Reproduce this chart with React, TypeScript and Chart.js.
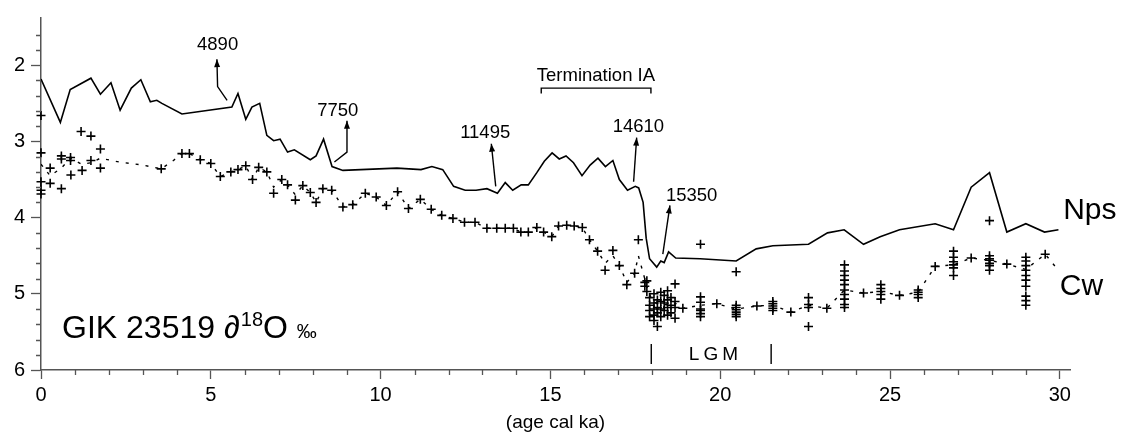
import React, { useEffect, useRef } from 'react';
import { Chart, registerables } from 'chart.js';

Chart.register(...registerables);

const FONT = '"Liberation Sans", Arial, Helvetica, sans-serif';

// ---- Nps (solid line) ----
const npsAge = [0, 0.57, 0.86, 1.47, 1.75, 2.06, 2.33, 2.66, 2.94, 3.22, 3.41, 3.56, 4.15, 5.62, 5.80, 6.03, 6.21, 6.44, 6.65, 6.85, 7.04, 7.26, 7.46, 7.93, 8.10, 8.32, 8.57, 8.89, 10.48, 11.19, 11.51, 11.83, 12.15, 12.49, 12.81, 13.13, 13.44, 13.67, 13.89, 14.14, 14.35, 14.60, 14.82, 15.05, 15.26, 15.46, 15.68, 15.93, 16.17, 16.40, 16.62, 16.84, 17.03, 17.27, 17.50, 17.60, 17.73, 17.82, 17.92, 18.13, 18.25, 18.35, 18.48, 18.69, 19.41, 20.47, 21.06, 21.55, 22.60, 23.16, 23.65, 24.22, 24.71, 25.28, 26.33, 26.87, 27.39, 27.93, 28.44, 29.00, 29.55, 29.96];
const npsD18O = [2.18, 2.75, 2.32, 2.17, 2.38, 2.23, 2.59, 2.30, 2.19, 2.48, 2.46, 2.50, 2.64, 2.55, 2.37, 2.71, 2.55, 2.50, 2.92, 2.99, 2.97, 3.14, 3.11, 3.24, 3.19, 2.97, 3.33, 3.38, 3.35, 3.37, 3.33, 3.37, 3.59, 3.64, 3.64, 3.62, 3.68, 3.54, 3.64, 3.57, 3.57, 3.41, 3.26, 3.15, 3.23, 3.19, 3.28, 3.45, 3.31, 3.22, 3.33, 3.25, 3.50, 3.64, 3.59, 3.61, 3.80, 4.27, 4.54, 4.65, 4.57, 4.59, 4.45, 4.53, 4.54, 4.57, 4.41, 4.37, 4.35, 4.20, 4.16, 4.35, 4.25, 4.16, 4.08, 4.16, 3.60, 3.41, 4.19, 4.08, 4.19, 4.16];

// ---- Cw individual measurements (+ markers), replicates per sample age ----
const cwAge = [0, 0.27, 0.60, 0.87, 0.88, 1.18, 1.21, 1.47, 1.75, 3.54, 4.15, 4.37, 4.69, 5.00, 5.28, 5.59, 5.80, 6.03, 6.23, 6.41, 6.65, 6.85, 7.09, 7.26, 7.49, 7.71, 7.93, 8.10, 8.30, 8.56, 8.89, 9.18, 9.55, 9.87, 10.17, 10.50, 10.82, 11.17, 11.49, 11.80, 12.13, 12.47, 12.78, 13.13, 13.42, 13.67, 13.91, 14.13, 14.35, 14.60, 14.80, 15.04, 15.24, 15.48, 15.70, 15.94, 16.15, 16.39, 16.61, 16.84, 17.03, 17.25, 17.48, 17.59, 17.78, 17.84, 17.92, 18.05, 18.15, 18.25, 18.35, 18.45, 18.55, 18.67, 18.90, 19.42, 19.90, 20.47, 21.08, 21.55, 22.08, 22.60, 23.14, 23.66, 24.22, 24.73, 25.28, 25.83, 26.33, 26.87, 27.39, 27.93, 28.44, 29.00, 29.57];
const cwValues: number[][] = [
  [2.66, 3.15, 3.53, 3.64, 3.69], [3.35, 3.55], [3.19, 3.23, 3.62], [3.21, 3.25], [3.44], [2.87], [3.38], [2.93, 3.25], [3.10, 3.35], [3.36],
  [3.16], [3.16], [3.24], [3.29], [3.46], [3.40], [3.37], [3.32], [3.50], [3.34],
  [3.40], [3.68], [3.50], [3.57], [3.77], [3.58], [3.67], [3.80], [3.62], [3.64],
  [3.86], [3.83], [3.68], [3.73], [3.84], [3.66], [3.88], [3.76], [3.89], [3.97],
  [4.01], [4.06], [4.06], [4.14], [4.14], [4.14], [4.14], [4.19], [4.19], [4.13],
  [4.19], [4.25], [4.11], [4.10], [4.11], [4.13], [4.29], [4.44], [4.69], [4.43],
  [4.63], [4.88], [4.73], [4.29], [4.85, 4.90], [4.83, 4.97], [5.05, 5.15, 5.22, 5.30], [5.00, 5.12, 5.20, 5.28, 5.35], [5.08, 5.18, 5.25, 5.43], [4.98, 5.10, 5.20, 5.30],
  [5.02, 5.12, 5.22], [4.96, 5.08, 5.18, 5.28], [5.05, 5.15, 5.25], [4.87, 5.10, 5.18, 5.32], [5.19], [4.35, 5.04, 5.11, 5.20, 5.22, 5.26, 5.30], [5.13], [4.71, 5.15, 5.18, 5.21, 5.24, 5.27, 5.30], [5.16], [5.10, 5.13, 5.16, 5.19, 5.22],
  [5.24], [5.05, 5.14, 5.18, 5.43], [5.19], [4.62, 4.70, 4.76, 4.82, 4.88, 4.95, 5.01, 5.07, 5.14, 5.18], [4.99], [4.88, 4.93, 4.97, 5.01, 5.07], [5.02], [4.95, 4.98, 5.01, 5.05], [4.64], [4.44, 4.52, 4.58, 4.62, 4.66, 4.76],
  [4.53], [4.04, 4.50, 4.54, 4.56, 4.60, 4.63, 4.69], [4.61], [4.52, 4.57, 4.63, 4.69, 4.76, 4.82, 4.90, 5.03, 5.09, 5.15], [4.48],
];

// ---- Cw dotted curve ----
const cwLineAge = [0, 0.27, 0.6, 0.87, 1.2, 1.47, 1.75, 2.3, 3.0, 3.54, 3.9, 4.15, 4.37, 4.69, 5.0, 5.28, 5.59, 5.8, 6.03, 6.23, 6.41, 6.65, 6.85, 7.09, 7.26, 7.49, 7.71, 7.93, 8.1, 8.3, 8.56, 8.89, 9.18, 9.55, 9.87, 10.17, 10.5, 10.82, 11.17, 11.49, 11.8, 12.13, 12.47, 12.78, 13.13, 13.42, 13.67, 13.91, 14.13, 14.35, 14.6, 14.8, 15.04, 15.24, 15.48, 15.7, 15.94, 16.15, 16.39, 16.61, 16.84, 17.03, 17.25, 17.48, 17.59, 17.84, 18.0, 18.3, 18.67, 18.9, 19.42, 19.9, 20.47, 21.08, 21.55, 22.08, 22.6, 23.14, 23.66, 24.22, 24.73, 25.28, 25.83, 26.33, 26.87, 27.39, 27.93, 28.44, 29.0, 29.57, 29.88];
const cwLineD18O = [3.30, 3.45, 3.35, 3.22, 3.30, 3.28, 3.22, 3.27, 3.31, 3.36, 3.25, 3.16, 3.16, 3.24, 3.29, 3.46, 3.40, 3.37, 3.32, 3.50, 3.34, 3.40, 3.60, 3.50, 3.57, 3.70, 3.58, 3.67, 3.80, 3.62, 3.64, 3.86, 3.83, 3.68, 3.73, 3.84, 3.66, 3.88, 3.76, 3.89, 3.97, 4.01, 4.06, 4.06, 4.14, 4.14, 4.14, 4.14, 4.19, 4.19, 4.13, 4.19, 4.25, 4.11, 4.10, 4.11, 4.13, 4.29, 4.44, 4.60, 4.50, 4.63, 4.85, 4.73, 4.50, 4.90, 5.10, 5.15, 5.12, 5.19, 5.15, 5.13, 5.20, 5.16, 5.15, 5.24, 5.15, 5.19, 4.95, 4.99, 4.97, 5.02, 4.98, 4.64, 4.62, 4.53, 4.56, 4.61, 4.68, 4.48, 4.65];

// ---- Age-date annotations (text + arrow path in data units) ----
const dateLabels = ['4890', '7750', '11495', '14610', '15350'];
const dateLabelAge = [5.2, 8.74, 13.08, 17.59, 19.16];
const dateLabelD18O = [1.73, 2.60, 2.89, 2.81, 3.71];
const arrowAges = [[5.48, 5.20, 5.18], [8.64, 9.01, 9.01], [13.39, 13.26], [17.45, 17.54], [18.31, 18.52]];
const arrowD18O = [[2.46, 2.28, 1.92], [3.27, 3.14, 2.73], [3.59, 3.03], [3.53, 2.95], [4.48, 3.84]];

// Termination IA bracket & LGM markers
const terminationAges = [14.73, 17.96];
const terminationD18O = [2.30, 2.37];
const lgmAges = [17.97, 21.5];
const lgmD18O = [5.66, 5.92];

const X_MIN = 0, X_MAX = 30.3, Y_MIN = 1.38, Y_MAX = 6;
const AXIS_COLOR = '#555';

export default function App() {
  const ref = useRef<HTMLCanvasElement>(null);

  useEffect(() => {
    document.body.style.margin = '0';
    const canvas = ref.current!;
    const nps = npsAge.map((a, i) => ({ x: a, y: npsD18O[i] }));
    const cwPts: { x: number; y: number }[] = [];
    cwAge.forEach((a, i) => (cwValues[i] || []).forEach((v) => cwPts.push({ x: a, y: v })));
    const cwLine = cwLineAge.map((a, i) => ({ x: a, y: cwLineD18O[i] }));

    const overlay = {
      id: 'overlay',
      afterDraw(chart: any) {
        const ctx = chart.ctx as CanvasRenderingContext2D;
        const xs = chart.scales.x, ys = chart.scales.y;
        const X = (v: number) => xs.getPixelForValue(v);
        const Y = (v: number) => ys.getPixelForValue(v);
        ctx.save();
        // minor ticks
        ctx.strokeStyle = AXIS_COLOR;
        ctx.lineWidth = 1.3;
        ctx.beginPath();
        for (let k = 8; k < 30; k++) {
          const v = k / 5;
          if (k % 5 === 0) continue;
          const py = Math.round(Y(v)) + 0.5;
          ctx.moveTo(chart.chartArea.left - 5, py);
          ctx.lineTo(chart.chartArea.left, py);
        }
        for (let v = 1; v < 30; v++) {
          if (v % 5 === 0) continue;
          const px = Math.round(X(v)) + 0.5;
          ctx.moveTo(px, chart.chartArea.bottom);
          ctx.lineTo(px, chart.chartArea.bottom + 5);
        }
        ctx.stroke();

        ctx.fillStyle = '#000';
        ctx.strokeStyle = '#000';
        ctx.lineWidth = 1.4;
        // arrows
        arrowAges.forEach((ages, i) => {
          const vals = arrowD18O[i];
          ctx.beginPath();
          ages.forEach((a, j) => {
            const px = X(a), py = Y(vals[j]);
            if (j === 0) ctx.moveTo(px, py); else ctx.lineTo(px, py);
          });
          ctx.stroke();
          const n = ages.length;
          const x1 = X(ages[n - 2]), y1 = Y(vals[n - 2]);
          const x2 = X(ages[n - 1]), y2 = Y(vals[n - 1]);
          const ang = Math.atan2(y2 - y1, x2 - x1);
          const L = 8, W = 3;
          ctx.beginPath();
          ctx.moveTo(x2, y2);
          ctx.lineTo(x2 - L * Math.cos(ang) + W * Math.sin(ang), y2 - L * Math.sin(ang) - W * Math.cos(ang));
          ctx.lineTo(x2 - L * Math.cos(ang) - W * Math.sin(ang), y2 - L * Math.sin(ang) + W * Math.cos(ang));
          ctx.closePath();
          ctx.fill();
        });
        // date labels
        ctx.font = `18.5px ${FONT}`;
        ctx.textAlign = 'center';
        ctx.textBaseline = 'middle';
        dateLabels.forEach((t, i) => ctx.fillText(t, X(dateLabelAge[i]), Y(dateLabelD18O[i])));

        // Termination IA
        ctx.fillText('Termination IA', X(16.34), Y(2.14));
        ctx.beginPath();
        ctx.moveTo(X(terminationAges[0]), Y(terminationD18O[1]));
        ctx.lineTo(X(terminationAges[0]), Y(terminationD18O[0]));
        ctx.lineTo(X(terminationAges[1]), Y(terminationD18O[0]));
        ctx.lineTo(X(terminationAges[1]), Y(terminationD18O[1]));
        ctx.stroke();

        // LGM
        ctx.beginPath();
        lgmAges.forEach((a) => {
          ctx.moveTo(X(a), Y(lgmD18O[0]));
          ctx.lineTo(X(a), Y(lgmD18O[1]));
        });
        ctx.stroke();
        ctx.font = `19px ${FONT}`;
        (ctx as any).letterSpacing = '4px';
        ctx.fillText('LGM', X(19.8) + 2, Y(5.80));
        (ctx as any).letterSpacing = '0px';

        // series labels
        ctx.textAlign = 'left';
        ctx.textBaseline = 'alphabetic';
        ctx.font = `30px ${FONT}`;
        ctx.fillText('Nps', X(30.1), Y(4.02));
        ctx.fillText('Cw', X(30.0), Y(5.01));

        // core title
        let cx = X(0.62);
        const by = Y(5.58);
        ctx.font = `32px ${FONT}`;
        const part1 = 'GIK 23519 \u2202';
        ctx.fillText(part1, cx, by);
        cx += ctx.measureText(part1).width + 1;
        ctx.font = `20px ${FONT}`;
        ctx.fillText('18', cx, by - 12);
        cx += ctx.measureText('18').width;
        ctx.font = `32px ${FONT}`;
        ctx.fillText('O', cx, by);
        cx += ctx.measureText('O ').width;
        ctx.font = `20px ${FONT}`;
        ctx.fillText('\u2030', cx, by);
        ctx.restore();
      },
    };

    const chart = new Chart(canvas, {
      type: 'scatter',
      data: {
        datasets: [
          { label: 'Nps', data: nps, showLine: true, borderColor: '#000', borderWidth: 1.6, pointRadius: 0, fill: false, tension: 0 },
          { label: 'Cw curve', data: cwLine, showLine: true, borderColor: '#000', borderWidth: 1.4, borderDash: [3, 7], pointRadius: 0, fill: false, tension: 0 },
          { label: 'Cw', data: cwPts, showLine: false, pointStyle: 'cross', pointRadius: 4.5, borderColor: '#000', backgroundColor: '#000', borderWidth: 1.6, clip: false } as any,
        ],
      },
      options: {
        animation: false,
        responsive: false,
        maintainAspectRatio: false,
        layout: { padding: { top: 5, right: 52, bottom: 0, left: 0 } },
        plugins: { legend: { display: false }, tooltip: { enabled: false }, title: { display: false } },
        scales: {
          x: {
            type: 'linear',
            min: X_MIN,
            max: X_MAX,
            ticks: { stepSize: 5, includeBounds: false, color: '#000', font: { family: FONT, size: 20 }, padding: 4, maxRotation: 0 },
            grid: { display: true, drawOnChartArea: false, drawTicks: true, tickLength: 9, tickColor: AXIS_COLOR, tickWidth: 1.3 },
            border: { display: true, color: AXIS_COLOR, width: 1.5 },
            title: { display: true, text: '(age cal ka)', color: '#000', font: { family: FONT, size: 19 }, padding: { top: 0, bottom: 3 } },
            afterFit: (s: any) => { s.height = 67; },
          },
          y: {
            type: 'linear',
            reverse: true,
            min: Y_MIN,
            max: Y_MAX,
            ticks: { stepSize: 1, includeBounds: false, color: '#000', font: { family: FONT, size: 20 }, padding: 6 },
            grid: { display: true, drawOnChartArea: false, drawTicks: true, tickLength: 10, tickColor: AXIS_COLOR, tickWidth: 1.3 },
            border: { display: true, color: AXIS_COLOR, width: 1.5 },
            afterFit: (s: any) => { s.width = 41; },
          },
        },
      } as any,
      plugins: [overlay],
    });
    return () => chart.destroy();
  }, []);

  return (
    <div style={{ width: 1122, height: 437 }}>
      <canvas ref={ref} width={1122} height={437} style={{ display: 'block' }} />
    </div>
  );
}
